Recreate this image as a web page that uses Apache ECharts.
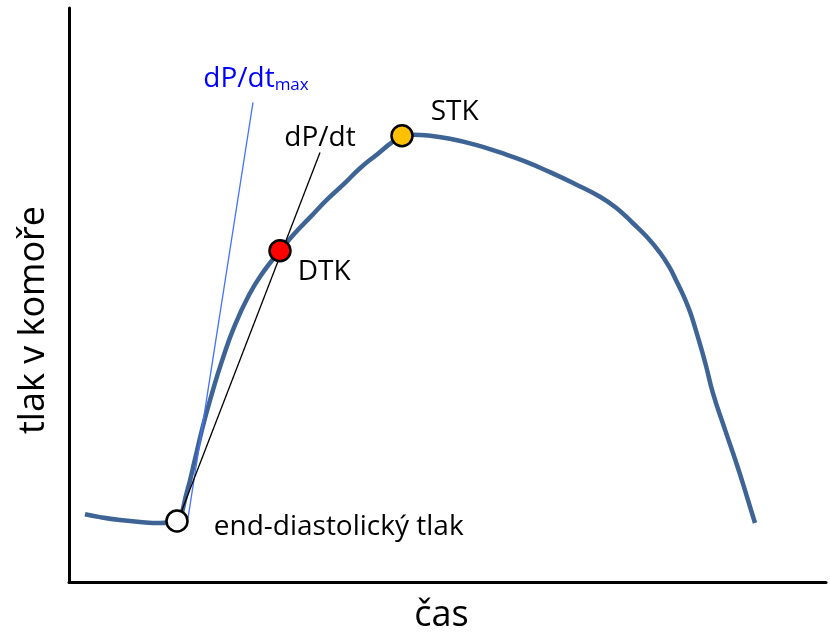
<!DOCTYPE html>
<html>
<head>
<meta charset="utf-8">
<script src="https://cdn.jsdelivr.net/npm/echarts@6/dist/echarts.min.js"></script>
<style>
html,body{margin:0;padding:0;background:#fff;}
#c{width:830px;height:639px;}
</style>
</head>
<body>
<div id="c"></div>
<script>
// pressure curve (arbitrary time / pressure units)
const curveTime = [16, 31, 51, 71, 91, 103, 108, 118, 126, 134, 143, 153, 165, 180, 194, 211, 226, 242, 258, 275, 291, 308, 324, 333, 344, 361, 381, 406, 431, 456, 481, 506, 531, 548, 564, 578, 591, 600, 608, 615, 621, 626, 631, 637, 644, 656, 668, 677, 686];
const curvePressure = [69, 66, 63, 61, 60, 61, 62, 92, 125, 159, 192, 225, 259, 292, 315, 337, 355, 372, 389, 405, 421, 435, 448, 453, 455, 454, 451, 445, 437, 428, 417, 405, 392, 380, 365, 351, 335, 321, 305, 290, 275, 259, 242, 220, 192, 155, 119, 90, 60];

// key points
const pointNames = ['end-diastolický tlak', 'DTK', 'STK'];
const pointTime = [108, 211, 333];
const pointPressure = [62, 337, 454];
const pointColors = ['#FFFFFF', '#FF0000', '#FFC000'];

// tangents: [start, end]
const tangentMaxTime = [119, 184];
const tangentMaxPressure = [65, 488];
const tangentTime = [108, 251];
const tangentPressure = [60, 437];

const FONT = 'Open Sans';

const curveData = curveTime.map((t, i) => [t, curvePressure[i]]);
const pointData = pointTime.map((t, i) => ({
  value: [t, pointPressure[i]],
  name: pointNames[i],
  itemStyle: { color: pointColors[i] }
}));
const labelCfg = [
  { distance: 25, offset: [0, 6] },
  { distance: 6, offset: [0, 21] },
  { distance: 17, offset: [0, -24] }
];
pointData.forEach((d, i) => {
  d.label = {
    show: true, position: 'right', distance: labelCfg[i].distance, offset: labelCfg[i].offset,
    formatter: d.name, color: '#000', fontFamily: FONT, fontSize: 28
  };
});

const el = document.getElementById('c');
const chart = echarts.init(el, null, { renderer: 'canvas' });
chart.setOption({
  animation: false,
  backgroundColor: '#fff',
  grid: { left: 69, right: 4, top: 8, bottom: 47, containLabel: false },
  xAxis: {
    type: 'value', min: 0, max: 757,
    name: 'čas', nameLocation: 'middle', nameGap: 16,
    nameTextStyle: { fontFamily: FONT, fontSize: 36, color: '#000', padding: [0, 12, 0, 0] },
    axisLine: { show: true, onZero: false, lineStyle: { color: '#000', width: 3 } },
    axisTick: { show: false }, axisLabel: { show: false }, splitLine: { show: false }
  },
  yAxis: {
    type: 'value', min: 0, max: 584,
    name: 'tlak v komoře', nameLocation: 'middle', nameGap: 17, nameRotate: 90,
    nameTextStyle: { fontFamily: FONT, fontSize: 36, color: '#000', padding: [0, 50, 0, 0] },
    axisLine: { show: true, onZero: false, lineStyle: { color: '#000', width: 3 } },
    axisTick: { show: false }, axisLabel: { show: false }, splitLine: { show: false }
  },
  series: [
    {
      type: 'line', data: curveData, smooth: 0.5, showSymbol: false, z: 2,
      lineStyle: { color: '#3E6496', width: 4.5 }
    },
    {
      type: 'line', z: 3, showSymbol: false, symbol: 'none',
      data: [[tangentMaxTime[0], tangentMaxPressure[0]], [tangentMaxTime[1], tangentMaxPressure[1]]],
      lineStyle: { color: '#4472FF', width: 1.3 }
    },
    {
      type: 'line', z: 3, showSymbol: false, symbol: 'none',
      data: [[tangentTime[0], tangentPressure[0]], [tangentTime[1], tangentPressure[1]]],
      lineStyle: { color: '#000', width: 1.3 }
    },
    {
      type: 'scatter', z: 4, symbolSize: 1, itemStyle: { color: 'rgba(0,0,0,0)', opacity: 1 },
      data: [
        {
          value: [tangentMaxTime[1], tangentMaxPressure[1]],
          label: {
            show: true, position: 'top', distance: 8, offset: [3, 0],
            formatter: '{a|dP/dt}{b|max}',
            rich: {
              a: { fontFamily: FONT, fontSize: 28, color: '#0000FF' },
              b: { fontFamily: FONT, fontSize: 17, color: '#0000FF', padding: [12, 0, 0, 0] }
            }
          }
        },
        {
          value: [tangentTime[1], tangentPressure[1]],
          label: {
            show: true, position: 'top', distance: 0, offset: [0, 0],
            formatter: 'dP/dt', fontFamily: FONT, fontSize: 28, color: '#000'
          }
        }
      ]
    },
    {
      type: 'scatter', z: 5, data: pointData, symbolSize: 21,
      itemStyle: { borderColor: '#000', borderWidth: 2.5, opacity: 1 }
    }
  ]
});
</script>
</body>
</html>
